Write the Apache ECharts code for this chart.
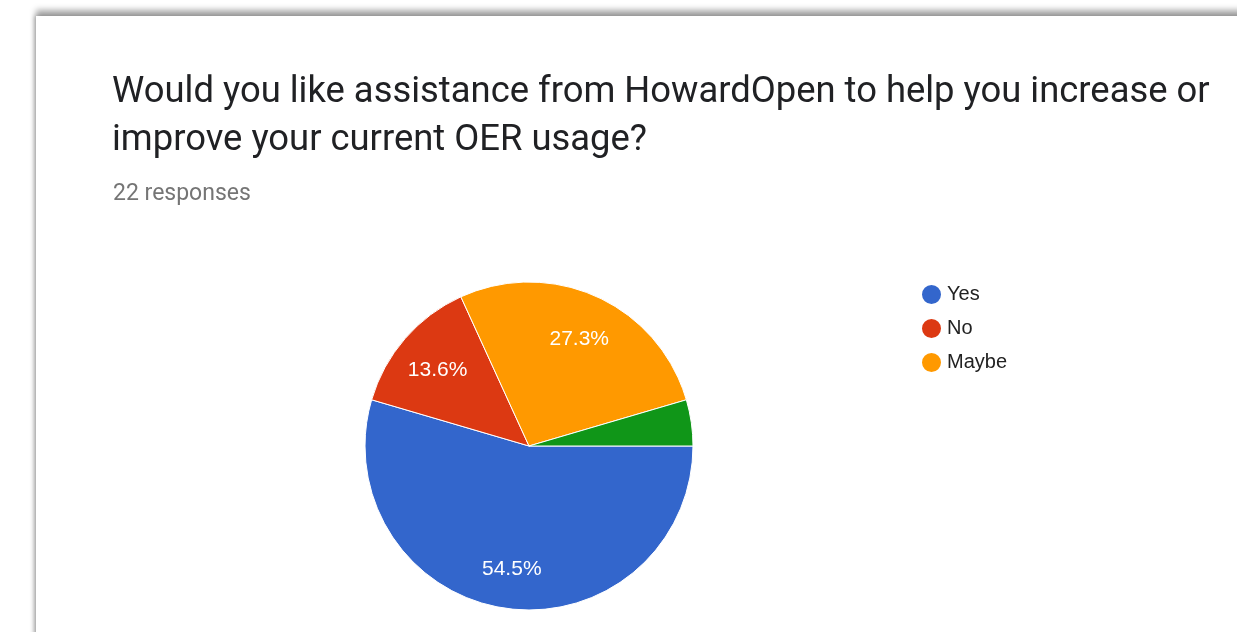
<!DOCTYPE html>
<html>
<head>
<meta charset="utf-8">
<script src="https://cdn.jsdelivr.net/npm/echarts@6/dist/echarts.min.js"></script>
<style>
  html, body { margin: 0; padding: 0; background: #fff; overflow: hidden; }
  #card {
    position: absolute; left: 36px; top: 16px; width: 1300px; height: 700px;
    background: #fff;
    box-shadow: 0 -6px 6px rgba(0,0,0,0.35), -2px 0 4px rgba(0,0,0,0.2);
  }
  #pieChart { position: absolute; left: 0; top: 0; width: 1237px; height: 632px; }
</style>
</head>
<body>
<div id="card"></div>
<div id="pieChart"></div>
<script>
  // survey answers
  var answers = ['Yes', 'No', 'Maybe', 'Other'];
  var counts = [12, 3, 6, 1];
  var colors = ['#3366cc', '#dc3912', '#ff9900', '#109618'];
  var legendNames = ['Yes', 'No', 'Maybe'];

  var chart = echarts.init(document.getElementById('pieChart'));

  var total = 0;
  for (var i = 0; i < counts.length; i++) {
    total += counts[i];
  }

  var sliceData = [];
  var labelData = [];
  for (var j = 0; j < answers.length; j++) {
    var share = counts[j] / total * 100;
    sliceData.push({
      name: answers[j],
      value: counts[j],
      itemStyle: { color: colors[j] }
    });
    labelData.push({
      name: answers[j],
      value: counts[j],
      itemStyle: { color: 'rgba(0,0,0,0)' },
      label: { show: share >= 5 }
    });
  }

  var option = {
    backgroundColor: 'transparent',
    animation: false,
    title: [
      {
        text: 'Would you like assistance from HowardOpen to help you increase or\nimprove your current OER usage?',
        left: 107,
        top: 64,
        textStyle: {
          fontFamily: 'Roboto',
          fontSize: 36.4,
          fontWeight: 'normal',
          color: '#202124',
          lineHeight: 48
        }
      },
      {
        text: '22 responses',
        left: 108,
        top: 178,
        textStyle: {
          fontFamily: 'Roboto',
          fontSize: 23,
          fontWeight: 'normal',
          color: '#757575'
        }
      }
    ],
    legend: {
      data: legendNames,
      orient: 'vertical',
      left: 915,
      top: 278,
      icon: 'circle',
      itemWidth: 21,
      itemHeight: 21,
      itemGap: 11,
      selectedMode: false,
      textStyle: {
        fontFamily: 'Arial',
        fontSize: 20,
        color: '#222'
      }
    },
    series: [
      {
        name: 'answers',
        type: 'pie',
        center: [529, 446],
        radius: [0, 164],
        startAngle: 0,
        clockwise: true,
        silent: true,
        label: { show: false },
        labelLine: { show: false },
        itemStyle: { borderColor: '#fff', borderWidth: 1 },
        data: sliceData
      },
      {
        name: 'labels',
        type: 'pie',
        center: [529, 446],
        radius: [72, 164],
        startAngle: 0,
        clockwise: true,
        silent: true,
        legendHoverLink: false,
        label: {
          position: 'inside',
          offset: [0, 3],
          formatter: function (p) {
            return p.percent.toFixed(1) + '%';
          },
          fontFamily: 'Arial',
          fontSize: 21,
          color: '#fff'
        },
        labelLine: { show: false },
        data: labelData
      }
    ]
  };

  chart.setOption(option);
</script>
</body>
</html>
